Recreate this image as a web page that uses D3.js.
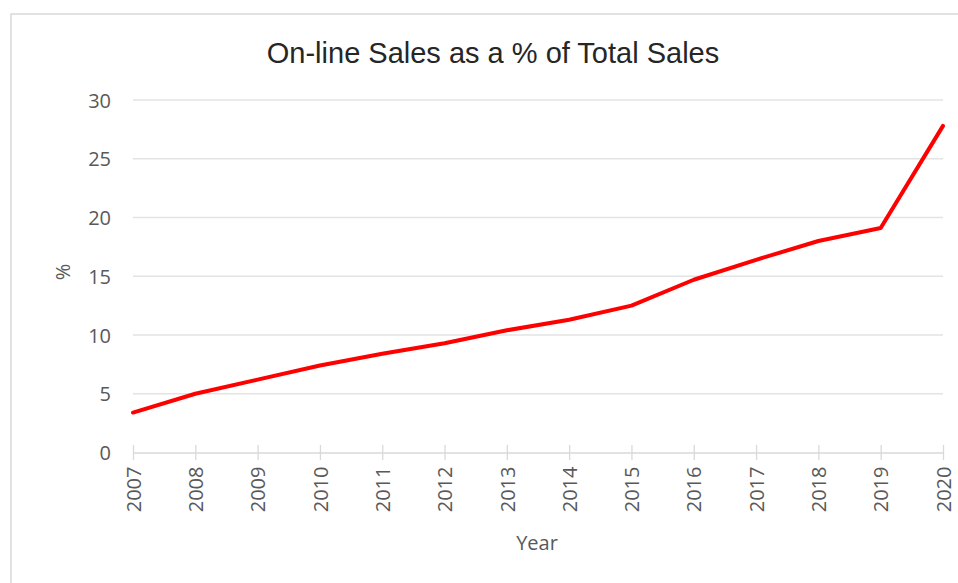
<!DOCTYPE html>
<html>
<head>
<meta charset="utf-8">
<script src="https://cdn.jsdelivr.net/npm/d3@7"></script>
<style>
  html, body { margin: 0; padding: 0; background: #fff; }
  svg { display: block; }
</style>
</head>
<body>
<svg id="chart" width="958" height="583"></svg>
<script>
const years = [2007, 2008, 2009, 2010, 2011, 2012, 2013, 2014, 2015, 2016, 2017, 2018, 2019, 2020];
const onlineShare = [3.4, 5.0, 6.2, 7.4, 8.4, 9.3, 10.4, 11.3, 12.5, 14.7, 16.4, 18.0, 19.1, 27.8];
const yTicks = [0, 5, 10, 15, 20, 25, 30];
const titleText = "On-line Sales as a % of Total Sales";
const xTitle = "Year";
const yTitle = "%";

const svg = d3.select("#chart");
const W = 958, H = 583;
const plot = { left: 133, right: 943, top: 100, bottom: 452.5 };

svg.append("rect").attr("x", 0).attr("y", 0).attr("width", W).attr("height", H).attr("fill", "#fff");
// chart frame
svg.append("rect").attr("x", 11).attr("y", 14).attr("width", 1000).attr("height", 700)
  .attr("fill", "#fff").attr("stroke", "#d9d9d9").attr("stroke-width", 1.5);

const x = d3.scalePoint().domain(years).range([plot.left, plot.right]);
const y = d3.scaleLinear().domain([0, 30]).range([plot.bottom, plot.top]);

// gridlines
svg.append("g").selectAll("line").data(yTicks.filter(d => d > 0)).join("line")
  .attr("x1", plot.left).attr("x2", plot.right)
  .attr("y1", d => y(d)).attr("y2", d => y(d))
  .attr("stroke", "#e3e3e3").attr("stroke-width", 1.3);

// y axis labels
const yAxis = d3.axisLeft(y).tickValues(yTicks).tickSize(0).tickPadding(0);
const gy = svg.append("g").attr("transform", `translate(${111},0)`).call(yAxis);
gy.select(".domain").remove();
gy.selectAll("text").attr("font-family", "'Open Sans', sans-serif").attr("font-size", 20)
  .attr("fill", "#595959").attr("dy", "0.35em");

// x axis
const xAxis = d3.axisBottom(x).tickSizeInner(7.5).tickSizeOuter(0).tickPadding(0);
const gx = svg.append("g").attr("transform", `translate(0,${plot.bottom})`).call(xAxis);
gx.select(".domain").attr("stroke", "#d9d9d9").attr("stroke-width", 1.3);
gx.selectAll(".tick line").attr("stroke", "#d9d9d9").attr("stroke-width", 1.3).attr("y1", -7.5).attr("y2", 7.5);
gx.selectAll(".tick text")
  .attr("font-family", "'Open Sans', sans-serif").attr("font-size", 20).attr("fill", "#595959")
  .attr("text-anchor", "end").attr("transform", "rotate(-90)")
  .attr("x", -14).attr("y", 0).attr("dy", "0.36em");

// line
const line = d3.line().x((d, i) => x(years[i])).y(d => y(d));
svg.append("path").datum(onlineShare).attr("d", line)
  .attr("fill", "none").attr("stroke", "#ff0000").attr("stroke-width", 4)
  .attr("stroke-linejoin", "round").attr("stroke-linecap", "round");

// title
svg.append("text").attr("x", 493).attr("y", 63).attr("text-anchor", "middle")
  .attr("font-family", "'Liberation Sans', Arial, sans-serif").attr("font-size", 29)
  .attr("fill", "#262626").text(titleText);

// axis titles
svg.append("text").attr("x", 537).attr("y", 550).attr("text-anchor", "middle")
  .attr("font-family", "'Open Sans', sans-serif").attr("font-size", 20).attr("fill", "#595959")
  .text(xTitle);
svg.append("text").attr("transform", `translate(70,272) rotate(-90)`).attr("text-anchor", "middle")
  .attr("font-family", "'Open Sans', sans-serif").attr("font-size", 20).attr("fill", "#595959")
  .text(yTitle);
</script>
</body>
</html>
